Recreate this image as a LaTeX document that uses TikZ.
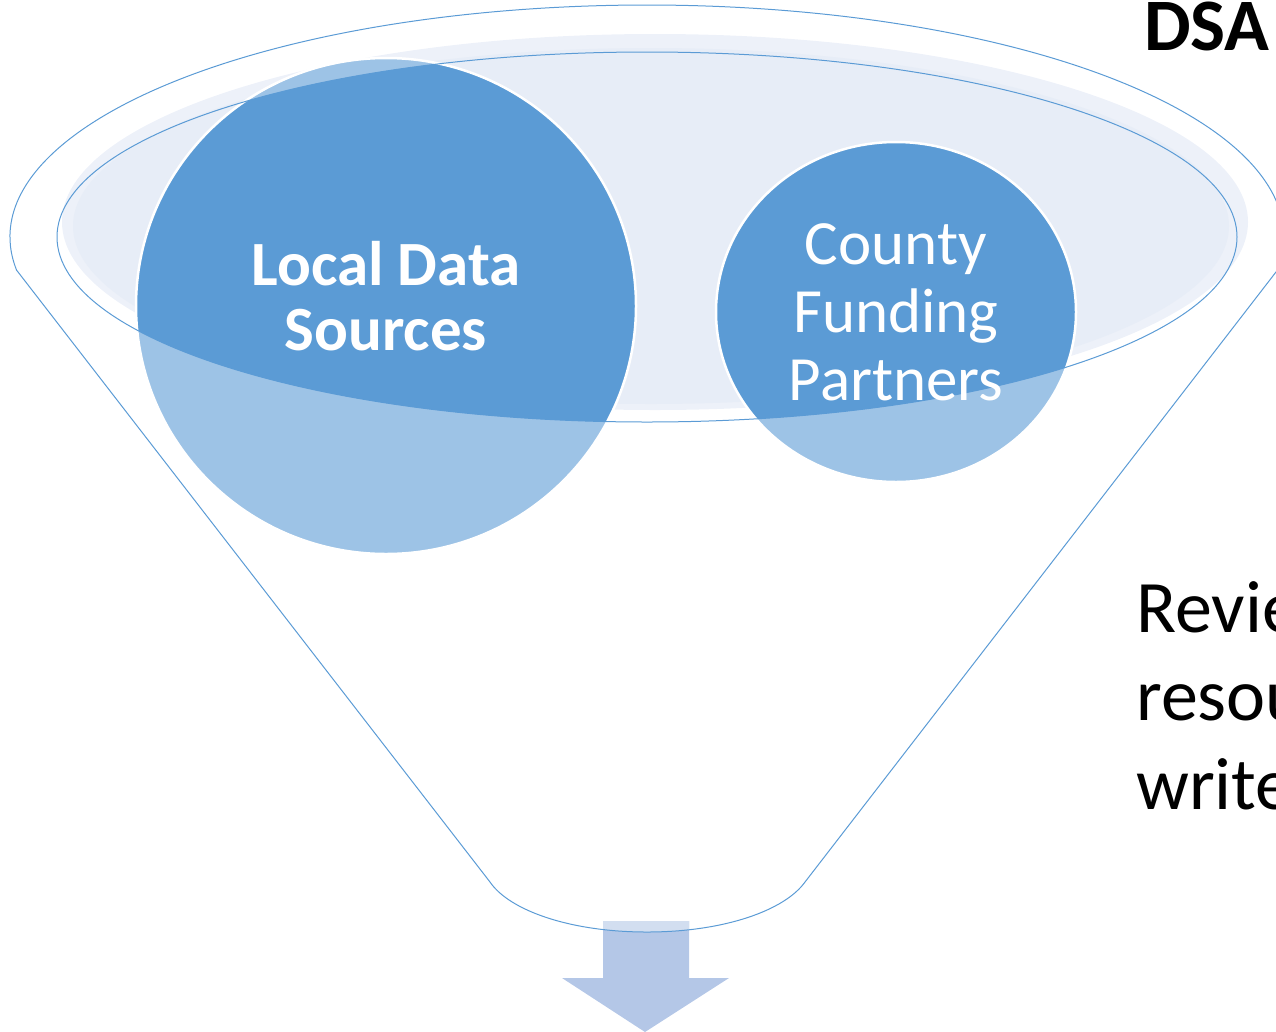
\documentclass[tikz,border=0pt]{standalone}
\usepackage{fontspec}
\setmainfont{Carlito}
\definecolor{darkblue}{HTML}{5B9BD5}
\definecolor{lightblue}{HTML}{9DC3E6}
\definecolor{rimfill}{HTML}{EDF1F9}
\definecolor{bowlfill}{HTML}{E7EDF7}
\definecolor{arrowblue}{HTML}{B4C7E7}
\definecolor{arrowtop}{HTML}{D2DEF0}
\newcommand{\funnelpath}{(647,237) ++(171.8:637 and 232) arc[start angle=171.8,end angle=368.2,x radius=637,y radius=232] -- (805,882) .. controls (785,910) and (725,932) .. (647,932) .. controls (569,932) and (509,910) .. (490,882) -- cycle}
\newcommand{\arrowpath}{(603,921) -- (689,921) -- (689,978) -- (729,978) -- (645,1032) -- (562,978) -- (603,978) -- cycle}

\begin{document}
\begin{tikzpicture}[x=1pt,y=-1pt,
    outline/.style={draw=darkblue,line width=1pt},
    bubble/.style={draw=white,line width=2.5pt},
    bubbletext/.style={text=white,align=center}]
        \useasboundingbox (0,0) rectangle (1276,1031);

        \fill[rimfill](655,222)ellipse[x radius=593,y radius=188];
        \fill[bowlfill](651,226)ellipse[x radius=578,y radius=178];

        \fill[arrowblue]\arrowpath;
        \begin{scope}
            \clip\funnelpath;
            \fill[arrowtop]\arrowpath;
        \end{scope}
        \draw[outline]\funnelpath;

        \fill[lightblue](386,306)ellipse[x radius=250,y radius=248];
        \fill[lightblue](896,312)ellipse[x radius=180,y radius=170];
        \begin{scope}
            \clip(647,237)ellipse[x radius=590,y radius=185];
            \fill[darkblue](386,306)ellipse[x radius=250,y radius=248];
            \fill[darkblue](896,312)ellipse[x radius=180,y radius=170];
        \end{scope}
        \draw[bubble](386,306)ellipse[x radius=250,y radius=248];
        \draw[bubble](896,312)ellipse[x radius=180,y radius=170];
        \draw[outline](647,237)ellipse[x radius=590,y radius=185];

        \node[bubbletext,font=\fontsize{63}{65}\selectfont\bfseries](local)at(386,296){Local Data\\Sources};
        \node[bubbletext,font=\fontsize{63}{68}\selectfont](county)at(896,312){County\\Funding\\Partners};

        \node[anchor=base west,font=\fontsize{74}{89}\selectfont\bfseries,inner sep=0pt](dsa)at(1144,50){DSA};
        \node[anchor=base west,font=\fontsize{74}{89}\selectfont,inner sep=0pt](review)at(1136,632){Revie};
        \node[anchor=base west,font=\fontsize{74}{89}\selectfont,inner sep=0pt](resou)at(1136,720){resou};
        \node[anchor=base west,font=\fontsize{74}{89}\selectfont,inner sep=0pt](write)at(1136,809){write};
\end{tikzpicture}
\end{document}
